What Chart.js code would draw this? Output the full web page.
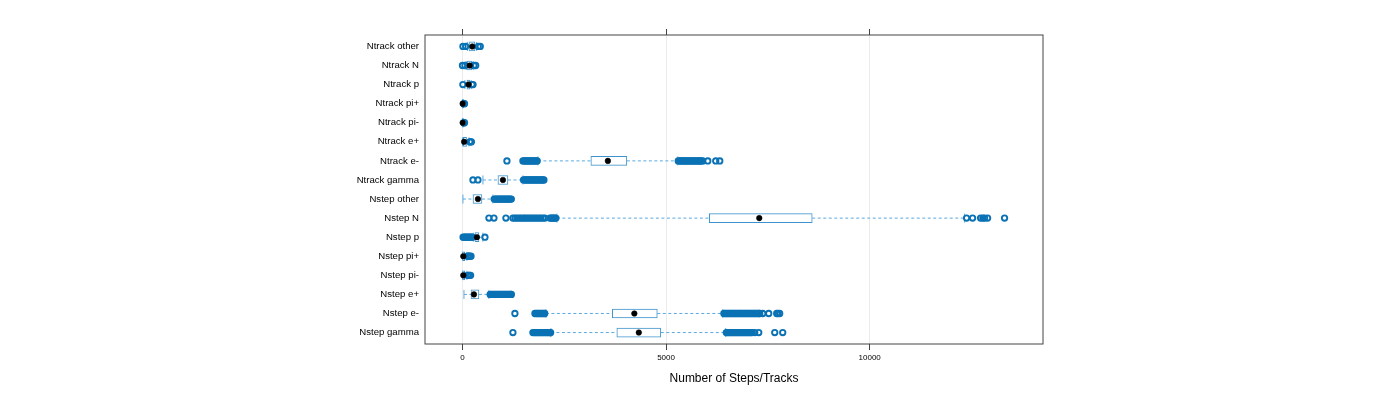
<!DOCTYPE html>
<html>
<head>
<meta charset="utf-8">
<script src="https://cdn.jsdelivr.net/npm/chart.js@4.4.1/dist/chart.umd.min.js"></script>
<style>
  html, body { margin: 0; padding: 0; background: #ffffff; }
  #c { display: block; }
</style>
</head>
<body>
<canvas id="c" width="1400" height="400"></canvas>
<script>
// Categories, bottom (1) to top (16)
const categories = ['Nstep gamma','Nstep e-','Nstep e+','Nstep pi-','Nstep pi+','Nstep p','Nstep N','Nstep other',
  'Ntrack gamma','Ntrack e-','Ntrack e+','Ntrack pi-','Ntrack pi+','Ntrack p','Ntrack N','Ntrack other'];

const whiskerLow  = [2172, 2049,  37,   0,   0, 265, 2319,  12,  503, 1853,   0,  0,  0,  60,  90, 120];
const quartile1   = [3791, 3681, 209,   5,   5, 307, 6062, 258,  871, 3153,  20,  2,  2, 110, 110, 160];
const medians     = [4331, 4221, 282,  20,  20, 356, 7289, 380,  994, 3571,  40,  5,  5, 150, 177, 241];
const quartile3   = [4871, 4785, 405,  55,  55, 405, 8590, 479, 1117, 4037, 100, 12, 12, 185, 225, 307];
const whiskerHigh = [6466, 6393, 650, 110, 110, 500, 12331, 748, 1485, 5289, 160, 25, 25, 215, 260, 350];

const outliers = [
  [1239, 1730, 1760, 1790, 1820, 1850, 1880, 1910, 1940, 1970, 2000, 2030, 2060, 2090, 2120, 2150, 2165,
   6480, 6510, 6540, 6570, 6600, 6630, 6660, 6690, 6720, 6750, 6780, 6810, 6840, 6870, 6900, 6930, 6960, 6990, 7020, 7050, 7080, 7110,
   7178, 7276, 7669, 7865],
  [1288, 1780, 1810, 1840, 1870, 1900, 1930, 1960, 1990, 2020,
   6420, 6450, 6480, 6510, 6540, 6570, 6600, 6630, 6660, 6690, 6720, 6750, 6780, 6810, 6840, 6870, 6900, 6930, 6960, 6990,
   7020, 7050, 7080, 7110, 7140, 7170, 7200, 7230, 7260, 7290, 7300, 7374, 7521, 7717, 7750, 7790],
  [680, 710, 740, 770, 800, 830, 860, 890, 920, 950, 980, 1010, 1040, 1070, 1100, 1130, 1160, 1190, 1200],
  [125, 150, 175, 200],
  [125, 150, 175, 210],
  [15, 45, 75, 105, 135, 165, 195, 225, 245, 552],
  [650, 773, 1067, 1239, 1290, 1337, 1390, 1436, 1490, 1534, 1580, 1632, 1680, 1730, 1780, 1828, 1880, 1926, 1980, 2024,
   2147, 2180, 2210, 2240, 2270, 2295, 12380, 12528, 12724, 12780, 12822, 12896, 13313],
  [780, 810, 840, 870, 900, 930, 960, 990, 1020, 1050, 1080, 1110, 1140, 1170, 1200],
  [258, 380, 1500, 1530, 1560, 1590, 1620, 1650, 1680, 1710, 1740, 1770, 1800, 1830, 1860, 1890, 1920, 1950, 1980, 2000],
  [1092, 1485, 1515, 1545, 1575, 1605, 1635, 1665, 1695, 1725, 1755, 1785, 1815, 1835,
   5300, 5330, 5360, 5390, 5420, 5450, 5480, 5510, 5540, 5570, 5600, 5630, 5660, 5690, 5720, 5750, 5780, 5810, 5840, 5870, 5900,
   6024, 6220, 6319],
  [180, 200, 220],
  [35, 50],
  [35, 50],
  [10, 233, 260],
  [0, 60, 282, 325],
  [12, 78, 388, 437]
];

const xTickValues = [0, 5000, 10000];
const xLimits = [-920, 14257];
const xTitle = 'Number of Steps/Tracks';

// Build datasets from the arrays
const rows = categories.map((_, i) => i + 1);
const boxData = rows.map((r, i) => ({ x: [quartile1[i], quartile3[i]], y: r }));
const medianData = rows.map((r, i) => ({ x: medians[i], y: r }));
const whiskerData = [];
rows.forEach((r, i) => {
  whiskerData.push({ x: whiskerLow[i], y: r }, { x: quartile1[i], y: r }, { x: null, y: null });
  whiskerData.push({ x: quartile3[i], y: r }, { x: whiskerHigh[i], y: r }, { x: null, y: null });
});
const capData = [];
rows.forEach((r, i) => {
  capData.push({ x: whiskerLow[i], y: r }, { x: whiskerHigh[i], y: r });
});
const outlierData = [];
rows.forEach((r, i) => outliers[i].forEach(v => outlierData.push({ x: v, y: r })));

const BLUE = '#0a72b4';
const BOXBLUE = '#3f93cc';
const WHISK = '#5aaae0';

const framePlugin = {
  id: 'frame',
  afterDraw(chart) {
    const { ctx, chartArea: a } = chart;
    ctx.save();
    ctx.strokeStyle = '#444444';
    ctx.lineWidth = 1;
    ctx.strokeRect(a.left, a.top, a.right - a.left, a.bottom - a.top);
    ctx.restore();
  }
};

const setXTicks = (scale) => { scale.ticks = xTickValues.map(v => ({ value: v })); };

new Chart(document.getElementById('c'), {
  type: 'scatter',
  data: {
    datasets: [
      {
        type: 'scatter', label: 'median', data: medianData, order: 0,
        pointStyle: 'circle', pointRadius: 2.8, pointBackgroundColor: '#000000',
        pointBorderColor: '#000000', pointBorderWidth: 0.5
      },
      {
        type: 'scatter', label: 'outliers', data: outlierData, order: 1,
        pointStyle: 'circle', pointRadius: 2.7, pointBackgroundColor: 'rgba(0,0,0,0)',
        pointBorderColor: BLUE, pointBorderWidth: 1.9
      },
      {
        type: 'scatter', label: 'caps', data: capData, order: 2,
        pointStyle: 'line', rotation: 90, pointRadius: 4.5,
        pointBorderColor: WHISK, pointBorderWidth: 1
      },
      {
        type: 'bar', label: 'box', data: boxData, order: 3, indexAxis: 'y',
        backgroundColor: '#ffffff', borderColor: BOXBLUE, borderWidth: 1,
        borderSkipped: false, barThickness: 9
      },
      {
        type: 'line', label: 'whiskers', data: whiskerData, order: 4,
        borderColor: WHISK, borderWidth: 1, borderDash: [3, 2.5],
        pointRadius: 0, spanGaps: false, fill: false, tension: 0
      }
    ]
  },
  options: {
    responsive: false,
    animation: false,
    devicePixelRatio: 1,
    layout: { padding: { left: 0, right: 357, top: 29, bottom: 0 } },
    plugins: { legend: { display: false }, tooltip: { enabled: false } },
    scales: {
      x: {
        type: 'linear', position: 'bottom', min: xLimits[0], max: xLimits[1], offset: false,
        afterBuildTicks: setXTicks,
        afterFit: (s) => { s.height = 56; },
        grid: { drawOnChartArea: true, color: '#ebebeb', tickColor: '#444444', tickLength: 6, lineWidth: 1, offset: false },
        border: { display: false },
        ticks: { font: { family: 'Liberation Sans, Arial, sans-serif', size: 8 }, color: '#000000', padding: 3,
                 maxRotation: 0, callback: (v) => String(v) },
        title: { display: true, text: xTitle, color: '#000000',
                 font: { family: 'Liberation Sans, Arial, sans-serif', size: 12 },
                 padding: { top: 0, bottom: 14 } }
      },
      xTop: {
        type: 'linear', position: 'top', min: xLimits[0], max: xLimits[1], offset: false,
        afterBuildTicks: setXTicks,
        afterFit: (s) => { s.height = 6; },
        grid: { drawOnChartArea: false, tickColor: '#444444', tickLength: 6, offset: false },
        border: { display: false },
        ticks: { display: false }
      },
      y: {
        type: 'linear', position: 'left', min: 0.4, max: 16.6, offset: false,
        afterBuildTicks: (s) => { s.ticks = rows.map(v => ({ value: v })); },
        afterFit: (s) => { s.width = 425; },
        grid: { display: false, drawTicks: false, offset: false },
        border: { display: false },
        ticks: { font: { family: 'Liberation Sans, Arial, sans-serif', size: 9.6 }, color: '#000000',
                 padding: 6, callback: (v) => categories[Math.round(v) - 1] }
      }
    }
  },
  plugins: [framePlugin]
});
</script>
</body>
</html>
